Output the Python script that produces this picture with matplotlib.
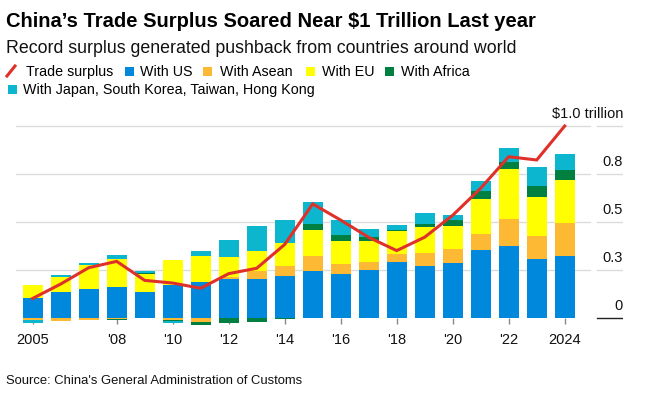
import matplotlib
matplotlib.use("Agg")
import matplotlib.pyplot as plt
from matplotlib.patches import Rectangle
from matplotlib.lines import Line2D
import numpy as np

plt.rcParams['font.family'] = ['Liberation Sans', 'DejaVu Sans']

# values in $ trillion
years = list(range(2005, 2025))
with_us = [0.104, 0.135, 0.151, 0.161, 0.135, 0.174, 0.188, 0.205, 0.203, 0.219,
           0.243, 0.231, 0.252, 0.293, 0.273, 0.288, 0.356, 0.377, 0.309, 0.325]
with_asean = [-0.012, -0.016, -0.010, -0.004, 0.0, -0.010, -0.019, 0.007, 0.042, 0.054,
              0.078, 0.052, 0.042, 0.042, 0.068, 0.073, 0.083, 0.141, 0.120, 0.172]
with_eu = [0.068, 0.078, 0.125, 0.146, 0.094, 0.128, 0.135, 0.108, 0.104, 0.118,
           0.135, 0.120, 0.109, 0.120, 0.135, 0.120, 0.182, 0.260, 0.203, 0.224]
with_africa = [0.0, 0.0, 0.0, -0.006, 0.007, -0.005, -0.017, -0.024, -0.019, -0.005,
               0.031, 0.031, 0.021, 0.005, 0.016, 0.031, 0.042, 0.036, 0.057, 0.052]
with_japan_etc = [-0.012, 0.010, 0.010, 0.021, 0.009, -0.009, 0.026, 0.087, 0.130, 0.120,
                  0.115, 0.078, 0.042, 0.026, 0.057, 0.026, 0.052, 0.073, 0.099, 0.083]
trade_surplus = [0.102, 0.177, 0.262, 0.295, 0.196, 0.182, 0.155, 0.231, 0.259, 0.383,
                 0.594, 0.510, 0.420, 0.351, 0.421, 0.535, 0.676, 0.840, 0.823, 1.000]

xtick_years = [2005, 2008, 2010, 2012, 2014, 2016, 2018, 2020, 2022, 2024]
xtick_labels = ["2005", "'08", "'10", "'12", "'14", "'16", "'18", "'20", "'22", "2024"]
ygrid = [0, 0.25, 0.5, 0.75, 1.0]
ylabels = ["0", "0.3", "0.5", "0.8", "$1.0 trillion"]

series = [("With US", with_us, "#0088dd"),
          ("With Asean", with_asean, "#fdb933"),
          ("With EU", with_eu, "#ffff00"),
          ("With Africa", with_africa, "#008040"),
          ("With Japan, South Korea, Taiwan, Hong Kong", with_japan_etc, "#0cb6cf")]
red = "#e0302a"

W, H = 656, 399
fig = plt.figure(figsize=(W / 100, H / 100), dpi=100)

def fx(x):
    return x / W

def fy(y):
    return 1 - y / H

# axes placed in pixel terms
ax_l, ax_r, ax_t, ax_b = 16, 623, 120, 326
ax = fig.add_axes([fx(ax_l), fy(ax_b), (ax_r - ax_l) / W, (ax_b - ax_t) / H])
ax.set_xlim(2005 - 16.7 / 28, 2005 + (623 - 32.7) / 28)
ax.set_ylim(-(ax_b - 318) / 192, (318 - ax_t) / 192)

pos = np.zeros(len(years))
neg = np.zeros(len(years))
for name, vals, col in series:
    v = np.array(vals)
    bottom = np.where(v >= 0, pos, neg)
    ax.bar(years, v, width=0.71, bottom=bottom, color=col, zorder=2, linewidth=0)
    pos = pos + np.clip(v, 0, None)
    neg = neg + np.clip(v, None, 0)

ax.plot(years, trade_surplus, color=red, lw=2.2, zorder=3, solid_joinstyle='miter')

# grid and right side labels
split = (590 - ax_l) / (ax_r - ax_l)
lab_start = (597 - ax_l) / (ax_r - ax_l)
for g, lab in zip(ygrid, ylabels):
    if g != 0:
        ax.axhline(g, xmin=0, xmax=split, color="#dcdcdc", lw=1, zorder=1)
    ax.axhline(g, xmin=lab_start, xmax=1, color="#222222" if g == 0 else "#dcdcdc",
               lw=1, zorder=1)
    ax.annotate(lab, xy=(1, g), xycoords=ax.get_yaxis_transform(),
                xytext=(0, 8), textcoords='offset pixels', ha='right', va='baseline',
                fontsize=10.5, color="#111111")

for s in ax.spines.values():
    s.set_visible(False)
ax.spines['bottom'].set_position(('data', 0))
ax.set_yticks([])
ax.set_xticks(xtick_years)
ax.set_xticklabels(xtick_labels, fontsize=10.5, color="#111111")
ax.tick_params(axis='x', length=4, width=1, color="#888888", pad=7)

# titles
fig.text(fx(6), fy(27), "China\u2019s Trade Surplus Soared Near $1 Trillion Last year",
         fontsize=14.5, fontweight='bold', va='baseline', ha='left')
fig.text(fx(6), fy(53), "Record surplus generated pushback from countries around world",
         fontsize=12.8, va='baseline', ha='left', color="#111111")

# legend, drawn by hand
fig.add_artist(Line2D([fx(7), fx(15)], [fy(76), fy(66)], color=red, lw=2.2))
fig.text(fx(26), fy(76), "Trade surplus", fontsize=10.3, va='baseline')
leg_pos = [(125, 140, 76), (203, 220, 76), (306, 322, 76), (385, 401, 76), (8, 23, 94)]
for (name, vals, col), (sx, tx, by) in zip(series, leg_pos):
    fig.add_artist(Rectangle((fx(sx), fy(by)), 9 / W, 9 / H, color=col, lw=0))
    fig.text(fx(tx), fy(by), name, fontsize=10.3, va='baseline')

fig.text(fx(6), fy(384), "Source: China's General Administration of Customs",
         fontsize=9.4, va='baseline', color="#111111")

fig.savefig("out.png", dpi=100)
